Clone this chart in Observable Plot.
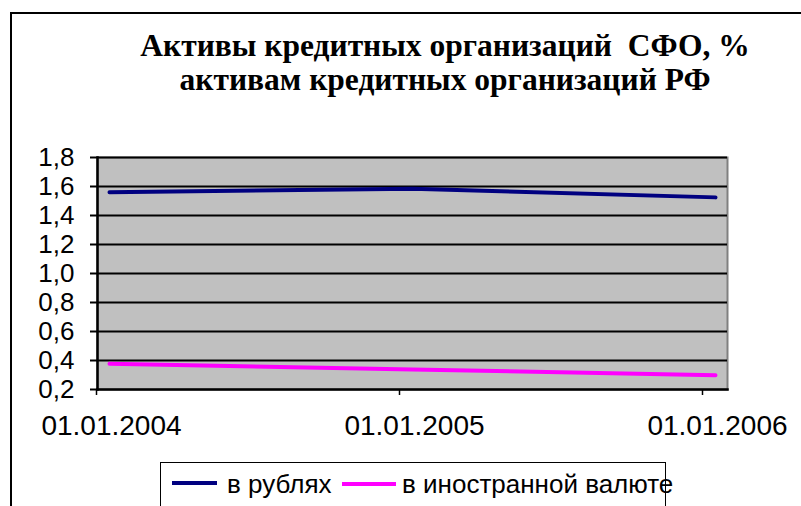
<!DOCTYPE html>
<html><head><meta charset="utf-8">
<script src="https://cdn.jsdelivr.net/npm/d3@7"></script>
<script src="https://cdn.jsdelivr.net/npm/@observablehq/plot@0.6"></script>
<style>
body{margin:0;background:#fff;}
#wrap{position:relative;width:801px;height:506px;overflow:hidden;background:#fff;}
#border{position:absolute;left:10px;top:12px;width:900px;height:600px;border:2px solid #000;box-sizing:border-box;}
.title{position:absolute;left:0;width:890px;text-align:center;font-family:"Liberation Serif","Times New Roman",serif;font-weight:bold;font-size:31.5px;line-height:34px;white-space:pre;color:#000;}
#chart{position:absolute;left:0;top:0;}
#legend{position:absolute;left:160px;top:462px;width:506px;height:80px;border:1px solid #000;box-sizing:border-box;background:#fff;}
.sw{position:absolute;height:4px;}
.lt{position:absolute;font-family:"Liberation Sans",Arial,sans-serif;font-size:26px;line-height:26px;white-space:nowrap;color:#000;}
</style>
</head><body>
<div id="wrap">
  <div id="border"></div>
  <div class="title" style="top:29px">Активы кредитных организаций  СФО, %</div>
  <div class="title" style="top:63px">активам кредитных организаций РФ</div>
  <div id="chart"></div>
  <div id="legend"></div>
  <div class="sw" style="left:172px;top:481px;width:45px;background:#000080"></div>
  <div class="lt" style="left:227px;top:471px">в рублях</div>
  <div class="sw" style="left:342px;top:482px;width:54px;background:#ff00ff"></div>
  <div class="lt" style="left:402px;top:471px">в иностранной валюте</div>
</div>
<script>
const xLabels = ["01.01.2004", "01.01.2005", "01.01.2006"];
const rubles = [1.56, 1.585, 1.525];
const foreign = [0.377, 0.338, 0.298];
const yTicks = [0.2, 0.4, 0.6, 0.8, 1.0, 1.2, 1.4, 1.6, 1.8];

const rubData = xLabels.map((d, i) => ({date: d, v: rubles[i]}));
const forData = xLabels.map((d, i) => ({date: d, v: foreign[i]}));

const chart = Plot.plot({
  width: 801, height: 506,
  marginLeft: 97, marginRight: 74, marginTop: 157, marginBottom: 117,
  style: {fontFamily: "'Liberation Sans', Arial, sans-serif", fontSize: "26px", color: "#000", background: "transparent", overflow: "visible"},
  x: {type: "point", domain: xLabels, padding: 0, insetLeft: 11.5, insetRight: 11, label: null},
  y: {domain: [0.2, 1.8], label: null},
  marks: [
    Plot.frame({fill: "#c0c0c0", stroke: "#808080", strokeWidth: 2}),
    Plot.ruleY(yTicks.filter(v => v > 0.25), {stroke: "#000", strokeWidth: 2}),
    Plot.frame({anchor: "left", stroke: "#000", strokeWidth: 2.5}),
    Plot.frame({anchor: "bottom", stroke: "#000", strokeWidth: 2.5}),
    Plot.line(rubData, {x: "date", y: "v", stroke: "#000080", strokeWidth: 4}),
    Plot.line(forData, {x: "date", y: "v", stroke: "#ff00ff", strokeWidth: 4}),
    Plot.axisY(yTicks, {tickSize: 7, tickPadding: 16, fontSize: 26, strokeWidth: 2, label: null,
      tickFormat: d => d.toFixed(1).replace(".", ",")}),
    Plot.axisX({tickSize: 6, tickFormat: () => "", dx: -13, strokeWidth: 1.5, label: null}),
    Plot.axisX({tickSize: 0, tickPadding: 26, fontSize: 28, dx: 2, label: null})
  ]
});
document.getElementById("chart").appendChild(chart);
</script>
</body></html>
